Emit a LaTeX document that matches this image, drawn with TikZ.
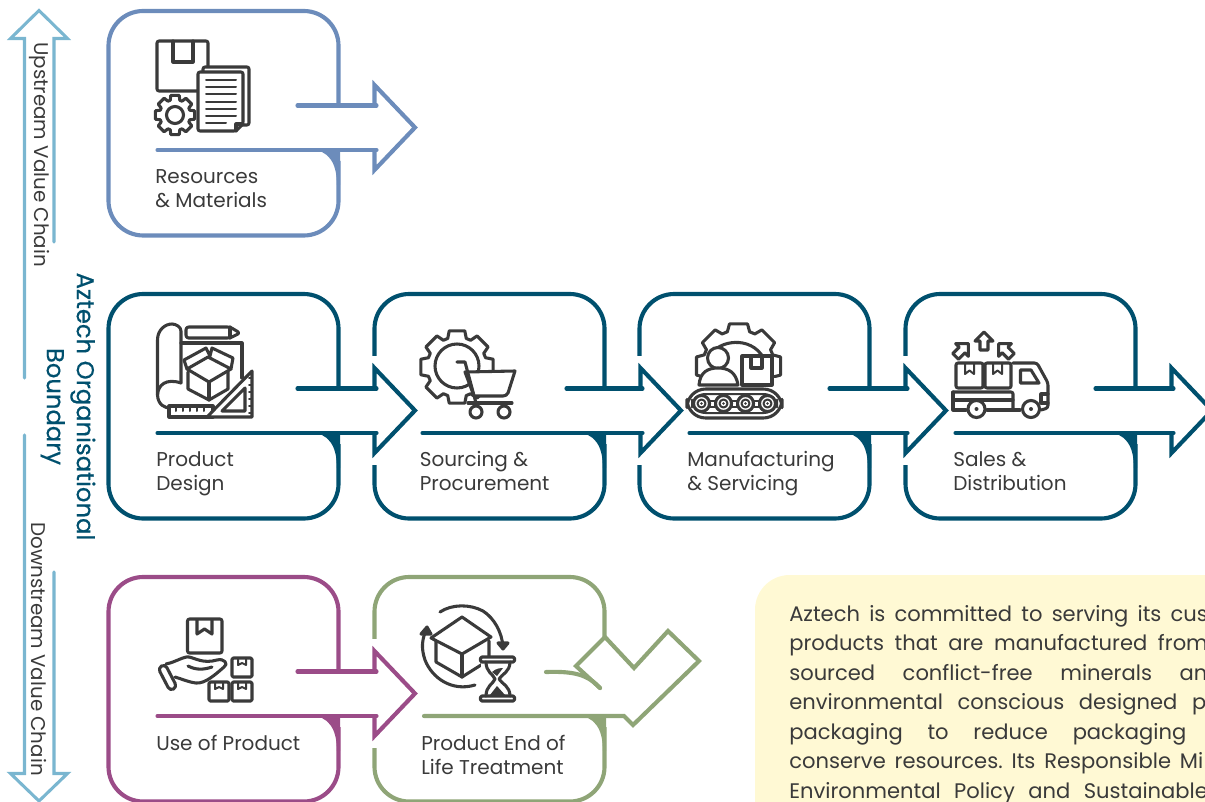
\documentclass[tikz,border=0pt]{standalone}
\usepackage{fontspec}
\setmainfont{Poppins}
\newfontfamily\boundfont[FakeBold=0.5]{Poppins}
\definecolor{cblue}{HTML}{6C8CBB}
\definecolor{cteal}{HTML}{00506E}
\definecolor{cpurple}{HTML}{9B4C88}
\definecolor{cgreen}{HTML}{8FA577}
\definecolor{csky}{HTML}{7AB6D0}
\definecolor{cyell}{HTML}{FFF9D4}
\definecolor{cink}{HTML}{3A3A3A}
\tikzset{
  flow/.style={line width=3.1pt,line join=miter,miter limit=10},
  icon/.style={draw=cink,line width=2.3pt,line join=round,line cap=round},
  thin icon/.style={draw=cink,line width=1.5pt,line cap=round,line join=round},
  lbl/.style={anchor=base west,inner sep=0pt,text=cink,font=\fontsize{15}{18}\selectfont},
  para/.style={anchor=base west,inner sep=0pt,text=cink,font=\fontsize{15.8}{18}\selectfont},
  side/.style={inner sep=0pt,rotate=-90,text=cink,font=\fontsize{14.9}{18}\selectfont},
  boundary/.style={inner sep=0pt,rotate=-90,align=center,text=cteal,font=\boundfont\fontsize{18.2}{22.5}\selectfont},
  valley/.style={draw=csky,line width=2.3pt,line join=miter,line cap=round}
}
\newcommand{\myBox}[3]{%
  \begin{scope}[shift={(#1,#2)}]
    \draw[flow,#3,rounded corners=26pt] (230,94.5)--(230,0)--(0,0)--(0,224.5)--(230,224.5)--(230,150);
    \fill[#3] (203,138) .. controls (219,140) and (228.4,150) .. (228.4,174) -- (231.6,174) -- (231.6,138) -- cycle;
  \end{scope}}
\newcommand{\myArrow}[5]{%
  \begin{scope}[shift={(#1,#2)}]
    \fill[white] (261,62) rectangle (271,171);
    \fill[white] (266,74)--(306.5,116.5)--(266,159)--cycle;
    \draw[flow,#3] (266,94.5)--(266,74)--(306.5,116.5)--(266,159)--(266,139);
    \draw[flow,#3,line cap=round] (#4,94.5)--(268,94.5);
    \draw[flow,#3,line cap=round] (#5,139)--(268,139);
  \end{scope}}
\newcommand{\myGear}[6]{% cx cy ro ri n fill
  \pgfmathtruncatemacro{\gearlast}{#5-1}
  \draw[icon,fill=#6] ({#1+#3*cos(-360/#5*.27)},{#2+#3*sin(-360/#5*.27)})
   \foreach \gi in {0,...,\gearlast}{
     -- ({#1+#3*cos(360/#5*(\gi+.27))},{#2+#3*sin(360/#5*(\gi+.27))})
     -- ({#1+#4*cos(360/#5*(\gi+.40))},{#2+#4*sin(360/#5*(\gi+.40))})
     -- ({#1+#4*cos(360/#5*(\gi+.60))},{#2+#4*sin(360/#5*(\gi+.60))})
     -- ({#1+#3*cos(360/#5*(\gi+.73))},{#2+#3*sin(360/#5*(\gi+.73))})
   } -- cycle;}
\begin{document}
\begin{tikzpicture}[x=0.75pt,y=-0.75pt]
\useasboundingbox (0,0) rectangle (1205,802);
\clip (0,0) rectangle (1205,802);
% side arrows
\draw[valley] (24.5,378)--(24.5,38.5)--(10.5,38.5)--(39,10.5)--(67.5,38.5)--(54,38.5)--(54,242);
\draw[valley] (24.5,435)--(24.5,773.5)--(10.5,773.5)--(39,801)--(67.5,773.5)--(54,773.5)--(54,572);
\node[side] (up) at (39,154.5) {Upstream Value Chain};
\node[side] (down) at (39,649) {Downstream Value Chain};
\node[boundary] (bound) at (68,406.5) {Aztech Organisational\\Boundary};
% yellow panel
\fill[cyell,rounded corners=26pt] (755,575) rectangle (1300,900);
\node[para] (p1) at (789,621) {\hbox to 314pt{Aztech\hfill is\hfill committed\hfill to\hfill serving\hfill its\hfill cus}};
\node[para] (p2) at (789,650.5) {\hbox to 314pt{products\hfill that\hfill are\hfill manufactured\hfill from}};
\node[para] (p3) at (789,680) {\hbox to 313.5pt{sourced\hfill conflict-free\hfill minerals\hfill an}};
\node[para] (p4) at (789,709.5) {\hbox to 312.75pt{environmental\hfill conscious\hfill designed\hfill p}};
\node[para] (p5) at (789,739) {\hbox to 297.75pt{packaging\hfill to\hfill reduce\hfill packaging}};
\node[para] (p6) at (789,768.5) {\hbox to 310.5pt{conserve\hfill resources.\hfill Its\hfill Responsible\hfill Mi}};
\node[para] (p7) at (789,798) {\hbox to 314pt{Environmental\hfill Policy\hfill and\hfill Sustainable}};
% boxes
\myBox{108.5}{11}{cblue}
\myBox{108.5}{294}{cteal}
\myBox{374.5}{294}{cteal}
\myBox{639.5}{294}{cteal}
\myBox{905.5}{294}{cteal}
\myBox{108.5}{577}{cpurple}
% green box
\begin{scope}[shift={(374.5,577)}]
  \draw[flow,cgreen,rounded corners=26pt] (230,60)--(230,0)--(0,0)--(0,224.5)--(230,224.5)--(230,150);
  \fill[cgreen] (203,138) .. controls (219,140) and (228.4,150) .. (228.4,174) -- (231.6,174) -- (231.6,138) -- cycle;
\end{scope}
% arrows
\myArrow{108.5}{11}{cblue}{189}{49}
\myArrow{108.5}{294}{cteal}{189}{49}
\myArrow{374.5}{294}{cteal}{192}{48}
\myArrow{639.5}{294}{cteal}{190}{50}
\myArrow{905.5}{294}{cteal}{190}{50}
\myArrow{108.5}{577}{cpurple}{189}{49}
% green return arrow
\draw[flow,cgreen,line cap=round] (546,672) .. controls (575,671) and (588,675) .. (600,688);
\draw[flow,cgreen,line cap=round,line join=miter] (600,688)--(576,666)--(605,637)--(634,668)--(668,631)--(699,661)--(633,725)--(624,716)--(424,716);
% labels
\node[lbl] (l1a) at (155,184) {Resources};
\node[lbl] (l1b) at (155,208) {\& Materials};
\node[lbl] (l2a) at (156,466) {Product};
\node[lbl] (l2b) at (156,490) {Design};
\node[lbl] (l3a) at (419.5,466) {Sourcing \&};
\node[lbl] (l3b) at (419.5,490) {Procurement};
\node[lbl] (l4a) at (687,466) {Manufacturing};
\node[lbl] (l4b) at (687,490) {\& Servicing};
\node[lbl] (l5a) at (953,466) {Sales \&};
\node[lbl] (l5b) at (953,490) {Distribution};
\node[lbl] (l6a) at (156,750) {Use of Product};
\node[lbl] (l7a) at (421,750) {Product End of};
\node[lbl] (l7b) at (421,774) {Life Treatment};
% icon 1: resources
\draw[icon,rounded corners=1.5pt] (157,41) rectangle (208,91);
\draw[icon] (173,41)--(173,62)--(193,62)--(193,41);
\draw[icon,fill=white,rounded corners=1.5pt] (203,67) rectangle (249,125);
\draw[icon,fill=white,rounded corners=1.5pt] (198,72)--(243,72)--(243,124)--(236,131)--(198,131)--cycle;
\draw[icon] (243,124)--(236,124)--(236,131);
\foreach \ly in {80,87,94,102,109,116}{\draw[thin icon] (206,\ly)--(236,\ly);}
\draw[thin icon] (206,123)--(226,123);
\myGear{175}{115}{20}{15.5}{8}{white}
\draw[icon] (175,115) circle[radius=8.5];
% icon 2: product design
\draw[icon] (181,383) .. controls (166,378) and (158,385) .. (157.5,395) .. controls (158,405) and (165,408) .. (170,408);
\draw[icon] (157.5,395)--(157.5,340) .. controls (157.5,330) and (165,324) .. (172,324) .. controls (176,324) and (181,327) .. (181,331) -- (181,383);
\draw[icon] (181,343)--(242,343)--(242,378);
\draw[icon,rounded corners=2pt] (186,327)--(230,327)--(240,333)--(230,338)--(186,338)--cycle;
\draw[icon] (230,327)--(230,338);
\draw[icon,fill=white] (187,369)--(184,360)--(206,348)--(210,356)--(212,348)--(233,358)--(231,369)--(209,382)--cycle;
\draw[icon] (187,369)--(208,357)--(231,369);
\draw[icon] (188,372)--(188,389)--(209,400)--(228,389)--(228,372);
\draw[icon] (209,382)--(209,400);
\draw[icon,fill=white] (169,406) rectangle (213,417);
\foreach \tx in {176,183,190,197,204}{\draw[thin icon] (\tx,407)--(\tx,411);}
\draw[icon,fill=white] (252,371)--(252,417)--(207,417)--cycle;
\draw[icon] (245,388)--(245,411)--(222,411)--cycle;
\foreach \ty in {378,385,392,399,406,413}{\draw[thin icon] (252,\ty)--(249,\ty);}
% icon 3: sourcing
\myGear{457}{367}{37}{30}{8}{white}
\draw[icon] (457,366) circle[radius=22];
\draw[icon,fill=white] (465,372)--(515,371)--(508,393) .. controls (507,395) and (505,396) .. (503,396) -- (474,396)--cycle;
\draw[icon] (457,362)--(465,362)--(476,403);
\draw[icon] (468,403)--(512,403);
\draw[icon,fill=white] (476,412) circle[radius=6];
\draw[icon,fill=white] (504,412) circle[radius=6];
% icon 4: manufacturing
\myGear{738.5}{366}{43}{36}{8}{white}
\draw[icon] (713,352) .. controls (722,340) and (755,335) .. (766,363);
\fill[white] (690,384) rectangle (790,420);
\fill[white] (772,378) rectangle (790,392);
\draw[icon,fill=white] (718,358) circle[radius=10.5];
\draw[icon,fill=white] (699,385) .. controls (700,372) and (708,368) .. (718,368) .. controls (728,368) and (736,372) .. (738,385) -- cycle;
\draw[icon,fill=white] (742,356) rectangle (772,385);
\draw[icon] (751,356)--(751,368)--(762,368)--(762,356);
\draw[icon,fill=white,rounded corners=14pt] (687,389) rectangle (782,418);
\draw[thin icon,rounded corners=10pt] (692,394) rectangle (777,413);
\foreach \rx in {701.5,723.5,745.5,767.5}{
  \draw[icon,fill=white] (\rx,403.5) circle[radius=8];
  \draw[thin icon] (\rx,403.5) circle[radius=4];
  \fill[cink] (\rx,403.5) circle[radius=1.4];
}
\foreach \rx in {712.5,734.5,756.5}{\draw[thin icon] (\rx-2.5,400.5) rectangle (\rx+2.5,406.5);}
% icon 5: truck
\draw[icon,rounded corners=1.5pt] (956,363) rectangle (983,388);
\draw[icon,rounded corners=1.5pt] (985,363) rectangle (1011,388);
\draw[thin icon] (965,363)--(965,374)--(969.5,370.5)--(974,374)--(974,363);
\draw[thin icon] (993,363)--(993,374)--(997.5,370.5)--(1002,374)--(1002,363);
\draw[icon,rounded corners=2pt] (1013,363)--(1037,363)--(1048,383)--(1048,408)--(1041,410);
\draw[icon] (1020.5,370)--(1031,370)--(1039,383)--(1020.5,383)--cycle;
\draw[icon,rounded corners=1.5pt] (953,392)--(1013,392)--(1013,409);
\draw[icon] (953,392)--(953,410)--(966,410);
\draw[icon] (953,400)--(1013,400);
\draw[icon] (987,410)--(1020,410);
\draw[icon] (1048,394)--(1041,394)--(1041,403)--(1048,403);
\draw[icon] (976.5,409) circle[radius=8.5];
\fill[cink] (976.5,409) circle[radius=2];
\draw[icon] (1031,409) circle[radius=8.5];
\fill[cink] (1031,409) circle[radius=2];
\foreach \ax/\ay/\ar in {984/341/0,962/350/-45,1005/350/45}{
  \begin{scope}[shift={(\ax,\ay)},rotate=\ar]
    \draw[icon] (0,-9)--(9,0)--(4,0)--(4,9)--(-4,9)--(-4,0)--(-9,0)--cycle;
  \end{scope}}
% icon 6: use of product
\draw[icon,rounded corners=1.5pt] (187.5,619) rectangle (222,653);
\draw[icon] (197,620)--(197,634)--(204.5,629)--(212,634)--(212,620);
\foreach \bx/\by in {232/658,209/682,232/682}{
  \draw[icon,rounded corners=1pt] (\bx,\by) rectangle (\bx+20,\by+19);
  \draw[thin icon] (\bx+6,\by)--(\bx+6,\by+7)--(\bx+10,\by+5)--(\bx+14,\by+7)--(\bx+14,\by);
}
\draw[icon,rounded corners=3pt] (158,668)--(165,664)--(177,687)--(170,691)--cycle;
\draw[icon] (166,664) .. controls (176,662) and (184,656) .. (189,657) .. controls (195,658) and (203,664) .. (217,660) .. controls (224,658) and (229,664) .. (224,667) .. controls (216,674) and (205,684) .. (196,683) .. controls (188,682) and (182,679) .. (175,677);
\draw[icon] (188,666) .. controls (196,670) and (203,670) .. (212,667);
% icon 7: end of life
\draw[icon,fill=white] (431,638)--(462,617)--(491,637)--(462,654)--cycle;
\draw[icon] (436,641)--(436,662)--(462,677)--(489,660)--(489,641);
\draw[icon] (462,654)--(462,677);
\draw[icon] (440,612) .. controls (452,604) and (470,604) .. (483,611) .. controls (494,618) and (502,632) .. (503,647);
\draw[icon,fill=cink] (498,643)--(508,643)--(503,649)--cycle;
\draw[icon] (475,685) .. controls (452,692) and (432,678) .. (425,660) .. controls (421,648) and (422,640) .. (426,630);
\draw[icon,fill=cink] (421,634)--(431,634)--(427,627)--cycle;
\fill[white] (481,662) rectangle (515,697);
\draw[icon,fill=white,rounded corners=1pt] (480.5,657) rectangle (514.5,662);
\draw[icon,fill=white,rounded corners=1pt] (480.5,696) rectangle (514.5,701);
\draw[icon] (486,662) .. controls (486,672) and (493,674) .. (495,679) .. controls (493,684) and (486,686) .. (486,696);
\draw[icon] (510,662) .. controls (510,672) and (502,674) .. (499,679) .. controls (502,684) and (510,686) .. (510,696);
\fill[cink] (490,695)--(497,686)--(505,695)--cycle;
\fill[cink] (492,672) .. controls (496,668) and (502,668) .. (503,668) -- (497,676) -- cycle;
\end{tikzpicture}
\end{document}
